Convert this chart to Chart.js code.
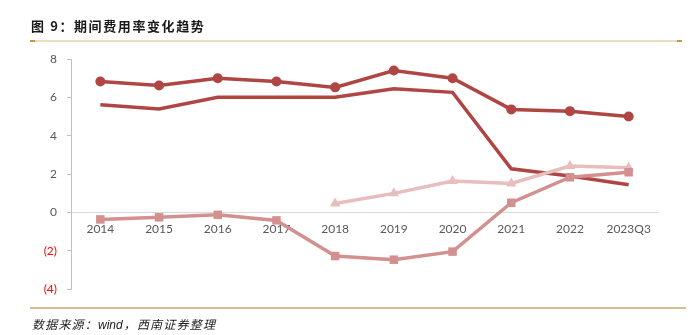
<!DOCTYPE html>
<html>
<head>
<meta charset="utf-8">
<script src="https://cdn.jsdelivr.net/npm/chart.js@4/dist/chart.umd.min.js"></script>
<style>
  html, body { margin: 0; padding: 0; background: #fff; }
  #wrap { position: relative; width: 692px; height: 335px; overflow: hidden; background: #fff; }
  #chart { position: absolute; left: 0; top: 0; }
  .title {
    position: absolute; left: 31px; top: 16px;
    font-family: "Noto Sans CJK SC", sans-serif; font-weight: 700;
    font-size: 13px; letter-spacing: 1.6px; color: #1a1a1a; white-space: nowrap;
  }
  .rule-top {
    position: absolute; left: 30px; top: 40px; width: 652px; height: 2px;
    background: linear-gradient(to right, #C9964A 0, #C9964A 5px, #ECDDC2 5px, #ECDDC2 647px, #C9964A 647px);
  }
  .rule-bottom {
    position: absolute; left: 30px; top: 307px; width: 656px; height: 2px; background: #D8BC8E;
  }
  .source {
    position: absolute; left: 32px; top: 315px;
    font-family: "Noto Sans CJK SC", sans-serif; font-style: italic;
    font-size: 12px; letter-spacing: 1.2px; color: #222; white-space: nowrap;
  }
  .source .latin { font-family: "Liberation Sans", sans-serif; letter-spacing: 0; margin-right: 1px; }
</style>
</head>
<body>
<div id="wrap">
  <canvas id="chart" width="692" height="335"></canvas>
  <div class="title">图 9：期间费用率变化趋势</div>
  <div class="rule-top"></div>
  <div class="rule-bottom"></div>
  <div class="source">数据来源：<span class="latin">wind</span>，西南证券整理</div>
</div>
<script>
// Period expense ratios (%), 2014 – 2023Q3
const categories = ['2014', '2015', '2016', '2017', '2018', '2019', '2020', '2021', '2022', '2023Q3'];
const seriesCircle = [6.83, 6.62, 7.0, 6.83, 6.52, 7.4, 7.0, 5.37, 5.28, 5.0];
const seriesPlain = [5.61, 5.39, 6.0, 6.0, 6.0, 6.45, 6.26, 2.27, 1.89, 1.44];
const seriesSquare = [-0.37, -0.26, -0.13, -0.42, -2.28, -2.47, -2.05, 0.5, 1.83, 2.09];
const seriesTriangle = [null, null, null, null, 0.46, 0.99, 1.63, 1.51, 2.42, 2.33];
const yTicks = [-4, -2, 0, 2, 4, 6, 8];

const DARK = '#AF4644';
const ROSE = '#D48F8F';
const PALE = '#E7BDBD';

const tickFont = { family: 'Lato, "Open Sans", sans-serif', size: 12 };

new Chart(document.getElementById('chart'), {
  type: 'line',
  data: {
    labels: categories,
    datasets: [
      {
        data: seriesCircle, borderColor: DARK, backgroundColor: DARK,
        borderWidth: 3.5, pointStyle: 'circle', pointRadius: 5, pointBorderWidth: 0,
        tension: 0, order: 1
      },
      {
        data: seriesPlain, borderColor: DARK, backgroundColor: DARK,
        borderWidth: 3.5, pointRadius: 0, tension: 0, order: 4
      },
      {
        data: seriesSquare, borderColor: ROSE, backgroundColor: ROSE,
        borderWidth: 3.5, pointStyle: 'rect', pointRadius: 6, pointBorderWidth: 0,
        tension: 0, order: 2
      },
      {
        data: seriesTriangle, borderColor: PALE, backgroundColor: PALE,
        borderWidth: 3.5, pointStyle: 'triangle', pointRadius: 6, pointBorderWidth: 0,
        tension: 0, order: 3, spanGaps: false
      }
    ]
  },
  options: {
    responsive: false,
    animation: false,
    events: [],
    layout: { padding: { left: 21, right: 34, top: 59, bottom: 46 } },
    plugins: { legend: { display: false }, tooltip: { enabled: false }, title: { display: false } },
    scales: {
      x: {
        type: 'category',
        position: { y: 0 },
        offset: true,
        grid: { display: false, drawTicks: false },
        border: { display: true, color: '#D9D9D9', width: 1 },
        ticks: { color: '#595959', font: tickFont, padding: 10, maxRotation: 0, autoSkip: false }
      },
      y: {
        min: -4, max: 8,
        afterBuildTicks: (scale) => { scale.ticks = yTicks.map(v => ({ value: v })); },
        afterFit: (scale) => { scale.width = 50; },
        grid: { drawOnChartArea: false, drawTicks: true, tickLength: 4, tickColor: '#BFBFBF' },
        border: { display: true, color: '#BFBFBF', width: 1 },
        ticks: {
          padding: 10,
          font: tickFont,
          color: (ctx) => (ctx.tick && ctx.tick.value < 0 ? '#FF0000' : '#595959'),
          callback: (v) => (v < 0 ? '(' + (-v) + ')' : String(v))
        }
      }
    }
  }
});
</script>
</body>
</html>
